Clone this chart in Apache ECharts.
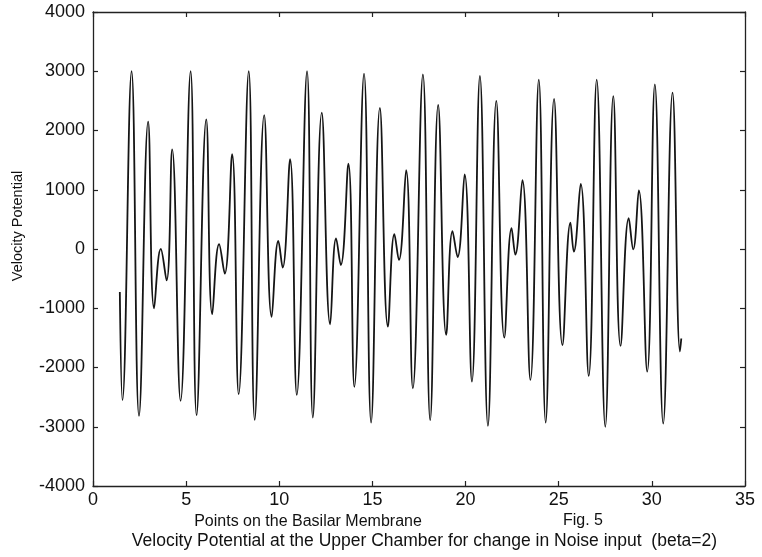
<!DOCTYPE html>
<html>
<head>
<meta charset="utf-8">
<script src="https://cdn.jsdelivr.net/npm/echarts@6/dist/echarts.min.js"></script>
<style>
  html, body { margin: 0; padding: 0; background: #fff; }
  #chart { width: 762px; height: 557px; }
</style>
</head>
<body>
<div id="chart"></div>
<script>
// peaks and troughs, in order along the membrane
var pointX = [
  1.44, 1.58, 2.07, 2.47, 2.96, 3.28, 3.64, 3.95, 4.25, 4.70,
  5.24, 5.56, 6.08, 6.40, 6.77, 7.07, 7.47, 7.82, 8.36, 8.68,
  9.19, 9.59, 9.95, 10.18, 10.58, 10.94, 11.49, 11.80, 12.28, 12.73,
  13.05, 13.30, 13.71, 14.03, 14.55, 14.93, 15.40, 15.83, 16.18, 16.42,
  16.81, 17.17, 17.71, 18.10, 18.53, 18.96, 19.30, 19.57, 19.95, 20.34,
  20.77, 21.20, 21.65, 22.08, 22.47, 22.67, 23.05, 23.48, 23.93, 24.30,
  24.75, 25.20, 25.63, 25.81, 26.18, 26.61, 27.04, 27.50, 27.93, 28.32,
  28.76, 29.00, 29.30, 29.75, 30.16, 30.61, 31.11, 31.51, 31.58
]
var pointY = [
  -725, -2550, 3000, -2815, 2150, -1000, 0, -530, 1680, -2563,
  3000, -2805, 2187, -1100, 80, -416, 1600, -2450, 3000, -2885,
  2260, -1147, 135, -315, 1515, -2462, 3000, -2845, 2300, -1270,
  180, -270, 1440, -2327, 2960, -2929, 2380, -1310, 250, -185,
  1330, -2350, 2945, -2890, 2430, -1450, 300, -135, 1260, -2238,
  2920, -2985, 2500, -1495, 350, -95, 1160, -2210, 2860, -2929,
  2535, -1620, 445, -45, 1100, -2140, 2860, -3000, 2580, -1635,
  520, -5, 990, -2070, 2780, -2945, 2640, -1730, -1510
]
var xTicks = [0, 5, 10, 15, 20, 25, 30, 35]
var yTicks = [-4000, -3000, -2000, -1000, 0, 1000, 2000, 3000, 4000]

var lineData = pointX.map(function (x, i) { return [x, pointY[i]] })

var chart = echarts.init(document.getElementById('chart'))

var fontName = 'Liberation Sans, Arial, sans-serif'
var axisFont = { color: '#111', fontSize: 18, fontFamily: fontName }
var boxLine = { show: true, onZero: false, lineStyle: { color: '#222', width: 1.3 } }
var inTick = { inside: true, length: 5, lineStyle: { color: '#222', width: 1.2 } }
var plain = function (v) { return String(v) }

var option = {
  animation: false,
  backgroundColor: '#fff',
  grid: { left: 93, right: 17, top: 12, bottom: 71 },
  graphic: [
    {
      type: 'text', x: 17.5, y: 226, rotation: Math.PI / 2,
      style: { text: 'Velocity Potential', fontSize: 14.5, fontFamily: fontName, fill: '#111', align: 'center', verticalAlign: 'middle' }
    },
    {
      type: 'text', x: 308, y: 522,
      style: { text: 'Points on the Basilar Membrane', fontSize: 16, fontFamily: fontName, fill: '#111', align: 'center', verticalAlign: 'middle' }
    },
    {
      type: 'text', x: 583, y: 521,
      style: { text: 'Fig. 5', fontSize: 16, fontFamily: fontName, fill: '#111', align: 'center', verticalAlign: 'middle' }
    },
    {
      type: 'text', x: 717, y: 541,
      style: { text: 'Velocity Potential at the Upper Chamber for change in Noise input  (beta=2)', fontSize: 17.5, fontFamily: fontName, fill: '#111', align: 'right', verticalAlign: 'middle' }
    }
  ],
  xAxis: [
    {
      type: 'value', min: 0, max: 35, interval: 5, position: 'bottom',
      axisLine: boxLine, axisTick: inTick,
      axisLabel: Object.assign({ margin: 5, formatter: plain }, axisFont),
      splitLine: { show: false }
    },
    {
      type: 'value', min: 0, max: 35, interval: 5, position: 'top',
      axisLine: boxLine, axisTick: inTick,
      axisLabel: { show: false },
      splitLine: { show: false }
    }
  ],
  yAxis: [
    {
      type: 'value', min: -4000, max: 4000, interval: 1000, position: 'left',
      axisLine: boxLine, axisTick: inTick,
      axisLabel: Object.assign({ margin: 8, formatter: plain }, axisFont),
      splitLine: { show: false }
    },
    {
      type: 'value', min: -4000, max: 4000, interval: 1000, position: 'right',
      axisLine: boxLine, axisTick: inTick,
      axisLabel: { show: false },
      splitLine: { show: false }
    }
  ],
  series: [
    {
      type: 'line',
      xAxisIndex: 0,
      yAxisIndex: 0,
      data: lineData,
      smooth: 0.45,
      showSymbol: false,
      lineStyle: { color: '#151515', width: 1.8 }
    }
  ]
}

chart.setOption(option)
</script>
</body>
</html>
